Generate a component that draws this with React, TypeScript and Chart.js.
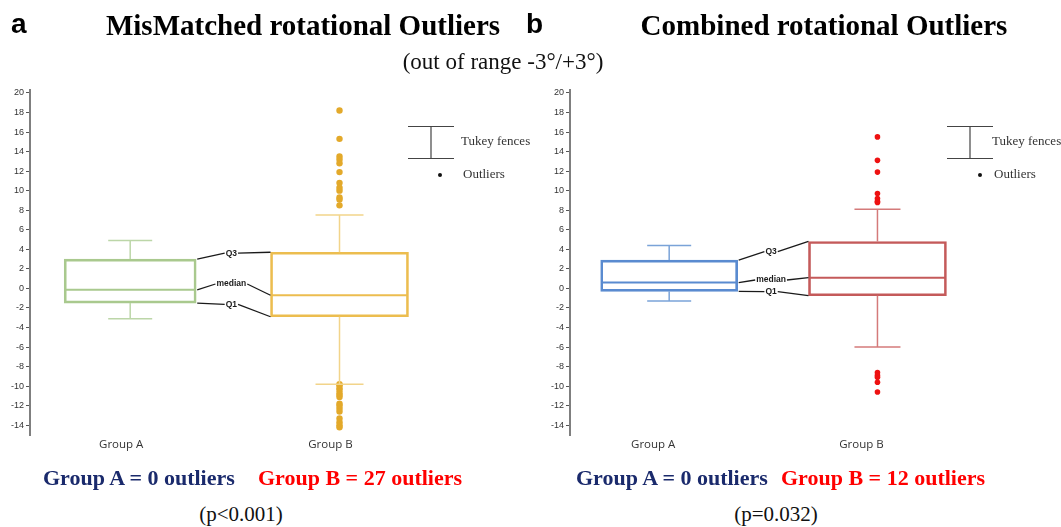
import React, { useEffect, useRef } from "react";
import { Chart, registerables } from "chart.js";

Chart.register(...registerables);

// ---------- data ----------
const categories = ["Group A", "Group B"];
const yTickValues = [-14, -12, -10, -8, -6, -4, -2, 0, 2, 4, 6, 8, 10, 12, 14, 16, 18, 20];

// Panel a: MisMatched rotational outliers
const misQ1 = [-1.5, -2.9];
const misMedian = [-0.15, -0.7];
const misQ3 = [3.0, 3.7];
const misLowFence = [-3.1, -9.8];
const misHighFence = [4.9, 7.5];
const misOutliersB = [
  18.2, 15.3, 13.5, 13.2, 12.8, 11.9, 10.8, 10.3, 10.0, 9.3, 9.1, 8.5,
  -9.8, -9.9, -10.2, -10.4, -10.7, -10.9, -11.1, -11.8, -12.0, -12.3, -12.6, -13.3, -13.7, -14.0, -14.2,
];

// Panel b: Combined rotational outliers
const comQ1 = [-0.3, -0.75];
const comMedian = [0.6, 1.1];
const comQ3 = [2.9, 4.8];
const comLowFence = [-1.3, -6.0];
const comHighFence = [4.4, 8.1];
const comOutliersB = [15.5, 13.1, 11.9, 9.7, 9.2, 8.9, 8.8, -8.6, -8.9, -9.1, -9.6, -10.6];

// label positions (values) for the Q3 / median / Q1 call-outs
const misCalloutValues = [3.6, 0.45, -1.63];
const comCalloutValues = [3.76, 0.86, -0.34];

type PanelCfg = {
  left: number;
  width: number;
  xMin: number;
  xMax: number;
  q1: number[];
  med: number[];
  q3: number[];
  lo: number[];
  hi: number[];
  outliers: number[];
  callouts: number[];
  boxColors: string[];
  whiskerColors: string[];
  outlierColor: string;
  outlierRadius: number;
  boxWidths: number[];
  capHalf: number[];
  labelOffset: number;
  legendX: number;
  legendTextDx: number;
  legendDotDx: number;
};

const H = 470;

function Panel({ cfg }: { cfg: PanelCfg }) {
  const ref = useRef<HTMLCanvasElement>(null);
  useEffect(() => {
    const extras = {
      id: "boxExtras",
      afterDatasetsDraw(chart: any) {
        const ctx = chart.ctx as CanvasRenderingContext2D;
        const xs = chart.scales.x;
        const ys = chart.scales.y;
        const yp = (v: number) => ys.getPixelForValue(v);
        const line = (x1: number, y1: number, x2: number, y2: number) => {
          ctx.beginPath();
          ctx.moveTo(x1, y1);
          ctx.lineTo(x2, y2);
          ctx.stroke();
        };
        ctx.save();
        for (let i = 0; i < 2; i++) {
          const cx = xs.getPixelForValue(i + 1);
          const half = cfg.boxWidths[i] / 2;
          ctx.strokeStyle = cfg.whiskerColors[i];
          ctx.lineWidth = 1.5;
          line(cx, yp(cfg.q3[i]), cx, yp(cfg.hi[i]));
          line(cx - cfg.capHalf[i], yp(cfg.hi[i]), cx + cfg.capHalf[i], yp(cfg.hi[i]));
          line(cx, yp(cfg.q1[i]), cx, yp(cfg.lo[i]));
          line(cx - cfg.capHalf[i], yp(cfg.lo[i]), cx + cfg.capHalf[i], yp(cfg.lo[i]));
          ctx.strokeStyle = cfg.boxColors[i];
          ctx.lineWidth = 2;
          line(cx - half + 1, yp(cfg.med[i]), cx + half - 1, yp(cfg.med[i]));
        }
        // call-outs
        const xA = xs.getPixelForValue(1) + cfg.boxWidths[0] / 2;
        const xB = xs.getPixelForValue(2) - cfg.boxWidths[1] / 2;
        const lx = (xA + xB) / 2 - 2;
        const items: [string, number[]][] = [
          ["Q3", cfg.q3],
          ["median", cfg.med],
          ["Q1", cfg.q1],
        ];
        ctx.font = 'bold 8.5px "Liberation Sans", Arial, sans-serif';
        ctx.textAlign = "center";
        ctx.textBaseline = "middle";
        ctx.strokeStyle = "#1a1a1a";
        ctx.fillStyle = "#1a1a1a";
        ctx.lineWidth = 1.3;
        items.forEach(([t, vals], k) => {
          const ly = yp(cfg.callouts[k]);
          const w = ctx.measureText(t).width;
          line(xA + 1, yp(vals[0]), lx - w / 2 - 1, ly);
          line(lx + w / 2 + 1, ly, xB, yp(vals[1]));
          ctx.fillText(t, lx, ly);
        });
        // legend (Tukey fences / Outliers)
        const L = cfg.legendX;
        ctx.strokeStyle = "#444";
        ctx.lineWidth = 1.2;
        line(L, 126.5, L + 46, 126.5);
        line(L + 23, 126.5, L + 23, 158.5);
        line(L, 158.5, L + 46, 158.5);
        ctx.fillStyle = "#111";
        ctx.beginPath();
        ctx.arc(L + cfg.legendDotDx, 175, 2, 0, Math.PI * 2);
        ctx.fill();
        ctx.fillStyle = "#333";
        ctx.font = '13px "Liberation Serif", "Times New Roman", serif';
        ctx.textAlign = "left";
        ctx.fillText("Tukey fences", L + cfg.legendTextDx, 142);
        ctx.fillText("Outliers", L + cfg.legendTextDx + 2, 175);
        ctx.restore();
      },
    };

    const chart = new Chart(ref.current!, {
      type: "bar",
      data: {
        datasets: [
          {
            type: "bar",
            data: [{ x: 1, y: [cfg.q1[0], cfg.q3[0]] }],
            backgroundColor: "rgba(0,0,0,0)",
            borderColor: cfg.boxColors[0],
            borderWidth: 2,
            borderSkipped: false,
            barThickness: cfg.boxWidths[0],
            skipNull: true,
          } as any,
          {
            type: "bar",
            data: [{ x: 2, y: [cfg.q1[1], cfg.q3[1]] }],
            backgroundColor: "rgba(0,0,0,0)",
            borderColor: cfg.boxColors[1],
            borderWidth: 2,
            borderSkipped: false,
            barThickness: cfg.boxWidths[1],
            skipNull: true,
          } as any,
          {
            type: "scatter",
            data: cfg.outliers.map((v) => ({ x: 2, y: v })),
            backgroundColor: cfg.outlierColor,
            borderWidth: 0,
            pointRadius: cfg.outlierRadius,
          } as any,
        ],
      },
      options: {
        animation: false,
        responsive: false,
        events: [],
        layout: { padding: { top: 90, bottom: 0, left: 0, right: 0 } },
        plugins: { legend: { display: false }, tooltip: { enabled: false } },
        scales: {
          x: {
            type: "linear",
            min: cfg.xMin,
            max: cfg.xMax,
            offset: false,
            grid: { display: false, offset: false },
            border: { display: false },
            afterBuildTicks: (s: any) => {
              s.ticks = categories.map((_, i) => ({ value: i + 1 }));
            },
            afterFit: (s: any) => {
              s.height = 35;
            },
            ticks: {
              callback: (v: any) => categories[Number(v) - 1] ?? "",
              font: { family: '"Open Sans", sans-serif', size: 11.5 },
              color: "#333",
              padding: -5,
              labelOffset: cfg.labelOffset,
              maxRotation: 0,
              autoSkip: false,
            },
          },
          y: {
            type: "linear",
            min: -15,
            max: 20.3,
            afterBuildTicks: (s: any) => {
              s.ticks = yTickValues.map((v) => ({ value: v }));
            },
            afterFit: (s: any) => {
              s.width = 30;
            },
            border: { display: true, color: "#7f7f7f", width: 2 },
            grid: { display: true, drawOnChartArea: false, drawTicks: true, tickLength: 4, color: "#555" },
            ticks: {
              font: { family: '"Liberation Sans", Arial, sans-serif', size: 9 },
              color: "#333",
              padding: 2,
              autoSkip: false,
            },
          },
        },
      } as any,
      plugins: [extras as any],
    });
    return () => chart.destroy();
  }, []);
  return (
    <canvas
      ref={ref}
      width={cfg.width}
      height={H}
      style={{ position: "absolute", left: cfg.left, top: 0, width: cfg.width, height: H }}
    />
  );
}

const leftCfg: PanelCfg = {
  left: 0,
  width: 530,
  xMin: 0.5213,
  xMax: 2.891,
  q1: misQ1,
  med: misMedian,
  q3: misQ3,
  lo: misLowFence,
  hi: misHighFence,
  outliers: misOutliersB,
  callouts: misCalloutValues,
  boxColors: ["#a9c98e", "#ecbd4f"],
  whiskerColors: ["#bcd6a8", "#f2d48a"],
  outlierColor: "#e3a92a",
  outlierRadius: 3.2,
  boxWidths: [132, 138],
  capHalf: [22, 24],
  labelOffset: -9,
  legendX: 408,
  legendTextDx: 53,
  legendDotDx: 32,
};

const rightCfg: PanelCfg = {
  left: 540,
  width: 521,
  xMin: 0.5238,
  xMax: 2.862,
  q1: comQ1,
  med: comMedian,
  q3: comQ3,
  lo: comLowFence,
  hi: comHighFence,
  outliers: comOutliersB,
  callouts: comCalloutValues,
  boxColors: ["#5a8bd0", "#c45a5a"],
  whiskerColors: ["#7aa3d8", "#d47a7a"],
  outlierColor: "#ee1111",
  outlierRadius: 2.8,
  boxWidths: [137, 138],
  capHalf: [22, 23],
  labelOffset: -16,
  legendX: 407,
  legendTextDx: 45,
  legendDotDx: 33,
};

const serif = '"Liberation Serif", "Times New Roman", serif';
const sans = '"Liberation Sans", Arial, sans-serif';

const T = (p: { x: number; y: number; size: number; text: string; color?: string; bold?: boolean; center?: boolean; font?: string }) => (
  <div
    style={{
      position: "absolute",
      left: p.x,
      top: p.y,
      fontSize: p.size,
      lineHeight: 1,
      fontFamily: p.font ?? serif,
      fontWeight: p.bold ? 700 : 400,
      color: p.color ?? "#111",
      whiteSpace: "nowrap",
      transform: p.center ? "translateX(-50%)" : undefined,
      zIndex: 2,
    }}
  >
    {p.text}
  </div>
);

export default function App() {
  return (
    <div
      style={{
        position: "absolute",
        left: 0,
        top: 0,
        width: 1061,
        height: 527,
        background: "#fff",
        overflow: "hidden",
      }}
    >
      <Panel cfg={leftCfg} />
      <Panel cfg={rightCfg} />
      <T x={11} y={10} size={28} text="a" bold font={sans} color="#000" />
      <T x={303} y={11} size={29} text="MisMatched rotational Outliers" bold center color="#000" />
      <T x={526} y={10} size={28} text="b" bold font={sans} color="#000" />
      <T x={824} y={11} size={29} text="Combined rotational Outliers" bold center color="#000" />
      <T x={503} y={50} size={23} text="(out of range -3°/+3°)" center />
      <T x={43} y={467} size={22} text="Group A = 0 outliers" bold color="#1a2a6c" />
      <T x={258} y={467} size={22} text="Group B = 27 outliers" bold color="#ff0000" />
      <T x={241} y={504} size={21} text="(p<0.001)" center />
      <T x={576} y={467} size={22} text="Group A = 0 outliers" bold color="#1a2a6c" />
      <T x={781} y={467} size={22} text="Group B = 12 outliers" bold color="#ff0000" />
      <T x={776} y={504} size={21} text="(p=0.032)" center />
    </div>
  );
}
